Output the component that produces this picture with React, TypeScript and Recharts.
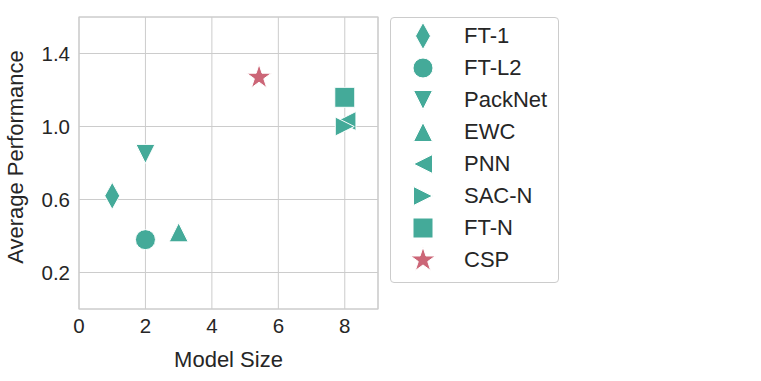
import React from 'react';
import { ScatterChart, Scatter, XAxis, YAxis, CartesianGrid, ReferenceArea } from 'recharts';

document.body.style.margin = '0';

const TEAL = '#44AA99';
const ROSE = '#CC6677';

const methods = ['FT-1', 'FT-L2', 'PackNet', 'EWC', 'PNN', 'SAC-N', 'FT-N', 'CSP'];
const modelSize = [1, 2, 2, 3, 8.05, 8, 8, 5.42];
const avgPerf = [0.62, 0.38, 0.85, 0.42, 1.03, 1.0, 1.16, 1.27];
const markers = ['diamond', 'circle', 'tri_down', 'tri_up', 'tri_left', 'tri_right', 'square', 'star'];
const colors = [TEAL, TEAL, TEAL, TEAL, TEAL, TEAL, TEAL, ROSE];

const xTicks = [0, 2, 4, 6, 8];
const yTicks = [0.2, 0.6, 1.0, 1.4];

const FONT = '"Liberation Sans", Arial, sans-serif';
const TEXT = '#262626';
const GRID = '#cccccc';

function markerPath(kind: string, cx: number, cy: number): string {
  const t = 9.5;
  switch (kind) {
    case 'diamond':
      return `M${cx},${cy - 13.5}L${cx + 7.5},${cy}L${cx},${cy + 13.5}L${cx - 7.5},${cy}Z`;
    case 'tri_down':
      return `M${cx - t},${cy - t}L${cx + t},${cy - t}L${cx},${cy + t}Z`;
    case 'tri_up':
      return `M${cx - t},${cy + t}L${cx + t},${cy + t}L${cx},${cy - t}Z`;
    case 'tri_left':
      return `M${cx + t},${cy - t}L${cx + t},${cy + t}L${cx - t},${cy}Z`;
    case 'tri_right':
      return `M${cx - t},${cy - t}L${cx - t},${cy + t}L${cx + t},${cy}Z`;
    case 'square':
      return `M${cx - 10},${cy - 10}h20v20h-20Z`;
    case 'star': {
      const R = 13;
      const r = R * 0.382;
      let d = '';
      for (let i = 0; i < 10; i++) {
        const a = -Math.PI / 2 + (i * Math.PI) / 5;
        const rad = i % 2 === 0 ? R : r;
        d += `${i === 0 ? 'M' : 'L'}${cx + rad * Math.cos(a)},${cy + rad * Math.sin(a)}`;
      }
      return d + 'Z';
    }
    default:
      return '';
  }
}

function Marker({ kind, cx, cy, fill }: { kind: string; cx: number; cy: number; fill: string }) {
  if (kind === 'circle') {
    return <circle cx={cx} cy={cy} r={10} fill={fill} stroke="#fff" strokeWidth={1} />;
  }
  return <path d={markerPath(kind, cx, cy)} fill={fill} stroke="#fff" strokeWidth={1} strokeLinejoin="miter" />;
}

export default function App() {
  return (
    <div style={{ position: 'relative', width: 761, height: 381, background: '#fff', fontFamily: FONT }}>
      <ScatterChart width={761} height={381} margin={{ top: 17, right: 383, bottom: 0, left: 19 }}>
        <CartesianGrid stroke={GRID} strokeWidth={1} />
        <ReferenceArea x1={0} x2={9} y1={0} y2={1.6} fill="none" stroke={GRID} strokeWidth={1.2} />
        <XAxis
          type="number"
          dataKey="x"
          domain={[0, 9]}
          ticks={xTicks}
          axisLine={false}
          tickLine={false}
          tickSize={0}
          tickMargin={9}
          height={72}
          tick={{ fontSize: 20.5, fill: TEXT, fontFamily: FONT }}
          label={{ value: 'Model Size', position: 'insideBottom', offset: 14, fontSize: 22, fill: TEXT, fontFamily: FONT }}
        />
        <YAxis
          type="number"
          dataKey="y"
          domain={[0, 1.6]}
          ticks={yTicks}
          tickFormatter={(v: number) => v.toFixed(1)}
          axisLine={false}
          tickLine={false}
          tickSize={0}
          tickMargin={9}
          width={60}
          tick={{ fontSize: 20.5, fill: TEXT, fontFamily: FONT }}
          label={{ value: 'Average Performance', angle: -90, position: 'insideLeft', offset: -4, dy: -6, fontSize: 22, fill: TEXT, fontFamily: FONT, style: { textAnchor: 'middle' } }}
        />
        {methods.map((m, i) => (
          <Scatter
            key={m}
            name={m}
            data={[{ x: modelSize[i], y: avgPerf[i] }]}
            isAnimationActive={false}
            shape={(p: any) => <Marker kind={markers[i]} cx={p.cx} cy={p.cy} fill={colors[i]} />}
          />
        ))}
      </ScatterChart>
      <div
        style={{
          position: 'absolute',
          left: 390,
          top: 17,
          width: 169,
          height: 266,
          border: `1px solid ${GRID}`,
          borderRadius: 4,
          boxSizing: 'border-box',
          background: '#fff',
        }}
      >
        {methods.map((m, i) => (
          <div key={m} style={{ position: 'absolute', left: 0, top: 2 + 32 * i, height: 32, display: 'flex', alignItems: 'center' }}>
            <svg width={66} height={32} style={{ display: 'block' }}>
              <Marker kind={markers[i]} cx={32} cy={16} fill={colors[i]} />
            </svg>
            <span style={{ marginLeft: 7, fontSize: 22, color: TEXT, fontFamily: FONT, lineHeight: '32px' }}>{m}</span>
          </div>
        ))}
      </div>
    </div>
  );
}
